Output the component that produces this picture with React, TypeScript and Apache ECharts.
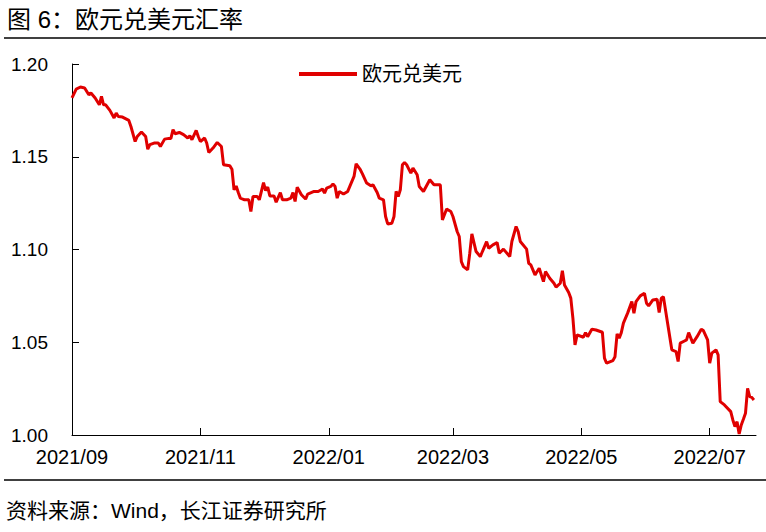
import React, { useEffect, useRef } from "react";
import * as echarts from "echarts";

const TITLE = "图 6：欧元兑美元汇率";
const SOURCE = "资料来源：Wind，长江证券研究所";
const SERIES_NAME = "欧元兑美元";
const AXIS_START = "2021-09-01";
const AXIS_END = "2022-07-23";
const Y_MIN = 1.0;
const Y_MAX = 1.2;
const Y_STEP = 0.05;

const dates = [
  "2021-09-01","2021-09-03","2021-09-05","2021-09-07","2021-09-09","2021-09-10","2021-09-12","2021-09-14","2021-09-15","2021-09-16",
  "2021-09-17","2021-09-19","2021-09-21","2021-09-22","2021-09-23","2021-09-25","2021-09-28","2021-09-29",
  "2021-10-01","2021-10-02","2021-10-04","2021-10-06","2021-10-07","2021-10-08","2021-10-10","2021-10-12","2021-10-13","2021-10-15",
  "2021-10-17","2021-10-18","2021-10-19","2021-10-20","2021-10-22","2021-10-24","2021-10-26","2021-10-27","2021-10-28","2021-10-30","2021-10-31",
  "2021-11-01","2021-11-03","2021-11-04","2021-11-05","2021-11-07","2021-11-09","2021-11-11","2021-11-12","2021-11-15","2021-11-16",
  "2021-11-17","2021-11-18","2021-11-19","2021-11-20","2021-11-22","2021-11-24","2021-11-25","2021-11-26","2021-11-28","2021-11-29",
  "2021-12-01","2021-12-02","2021-12-03","2021-12-04","2021-12-06","2021-12-07","2021-12-09","2021-12-10","2021-12-12","2021-12-14",
  "2021-12-15","2021-12-16","2021-12-17","2021-12-19","2021-12-21","2021-12-22","2021-12-25","2021-12-27","2021-12-29","2021-12-30","2021-12-31",
  "2022-01-02","2022-01-03","2022-01-04","2022-01-05","2022-01-06","2022-01-08","2022-01-10","2022-01-11","2022-01-13","2022-01-14",
  "2022-01-16","2022-01-17","2022-01-19","2022-01-21","2022-01-22","2022-01-24","2022-01-25","2022-01-27","2022-01-28","2022-01-29","2022-01-31",
  "2022-02-01","2022-02-02","2022-02-03","2022-02-04","2022-02-05","2022-02-06","2022-02-07","2022-02-09","2022-02-10","2022-02-12",
  "2022-02-13","2022-02-15","2022-02-18","2022-02-20","2022-02-23","2022-02-24","2022-02-26","2022-02-28",
  "2022-03-01","2022-03-03","2022-03-04","2022-03-05","2022-03-06","2022-03-08","2022-03-09","2022-03-10","2022-03-12","2022-03-14",
  "2022-03-15","2022-03-17","2022-03-18","2022-03-20","2022-03-22","2022-03-23","2022-03-25","2022-03-28","2022-03-29","2022-03-31",
  "2022-04-01","2022-04-02","2022-04-05","2022-04-06","2022-04-07","2022-04-09","2022-04-10","2022-04-11","2022-04-13","2022-04-14",
  "2022-04-16","2022-04-18","2022-04-19","2022-04-21","2022-04-22","2022-04-23","2022-04-25","2022-04-26","2022-04-27","2022-04-28","2022-04-29",
  "2022-05-02","2022-05-03","2022-05-04","2022-05-06","2022-05-08","2022-05-11","2022-05-12","2022-05-13","2022-05-16","2022-05-17",
  "2022-05-18","2022-05-19","2022-05-20","2022-05-21","2022-05-23","2022-05-25","2022-05-26","2022-05-27","2022-05-29","2022-05-31",
  "2022-06-01","2022-06-02","2022-06-04","2022-06-06","2022-06-07","2022-06-08","2022-06-09","2022-06-11","2022-06-13","2022-06-15",
  "2022-06-16","2022-06-17","2022-06-19","2022-06-20","2022-06-21","2022-06-23","2022-06-25","2022-06-27","2022-06-28","2022-06-30",
  "2022-07-01","2022-07-02","2022-07-04","2022-07-05","2022-07-06","2022-07-08","2022-07-11","2022-07-12","2022-07-13","2022-07-14",
  "2022-07-15","2022-07-16","2022-07-17","2022-07-18","2022-07-19","2022-07-20","2022-07-21","2022-07-22",
];

const rates = [
  1.1817,1.1865,1.1876,1.1871,1.1834,1.1844,1.1817,1.1780,1.1825,1.1780,
  1.1780,1.1750,1.1709,1.1736,1.1717,1.1714,1.1696,1.1663,
  1.1582,1.1609,1.1633,1.1609,1.1541,1.1565,1.1574,1.1574,1.1555,1.1595,
  1.1599,1.1599,1.1646,1.1624,1.1631,1.1619,1.1601,1.1613,1.1592,1.1642,1.1609,
  1.1582,1.1601,1.1574,1.1523,1.1547,1.1577,1.1555,1.1457,1.1451,1.1433,
  1.1322,1.1343,1.1307,1.1277,1.1268,1.1268,1.1205,1.1286,1.1286,1.1268,
  1.1361,1.1318,1.1336,1.1289,1.1289,1.1255,1.1307,1.1268,1.1268,1.1277,
  1.1307,1.1259,1.1336,1.1295,1.1272,1.1299,1.1313,1.1313,1.1326,1.1304,1.1331,
  1.1340,1.1354,1.1340,1.1277,1.1313,1.1299,1.1313,1.1340,1.1394,1.1462,
  1.1430,1.1408,1.1358,1.1343,1.1349,1.1307,1.1277,1.1268,1.1178,1.1138,1.1142,
  1.1178,1.1313,1.1286,1.1322,1.1457,1.1469,1.1457,1.1412,1.1439,1.1403,
  1.1340,1.1313,1.1376,1.1349,1.1349,1.1159,1.1218,1.1205,
  1.1178,1.1097,1.1070,1.0935,1.0908,1.0890,1.0980,1.1084,1.0989,1.0962,
  1.0989,1.1042,1.1007,1.1025,1.1037,1.0980,1.1002,1.0962,1.1043,1.1124,
  1.1097,1.1043,1.1002,1.0926,1.0917,1.0863,1.0881,1.0899,1.0827,1.0881,
  1.0845,1.0818,1.0797,1.0818,1.0886,1.0809,1.0768,1.0738,1.0630,1.0486,1.0540,
  1.0527,1.0552,1.0530,1.0570,1.0566,1.0554,1.0414,1.0387,1.0401,1.0422,
  1.0545,1.0522,1.0552,1.0603,1.0657,1.0719,1.0657,1.0719,1.0750,1.0764,
  1.0710,1.0696,1.0728,1.0732,1.0660,1.0738,1.0746,1.0603,1.0459,1.0450,
  1.0396,1.0495,1.0507,1.0513,1.0552,1.0495,1.0530,1.0570,1.0563,1.0513,
  1.0387,1.0441,1.0459,1.0432,1.0180,1.0162,1.0126,1.0081,1.0045,1.0072,
  1.0006,1.0054,1.0085,1.0117,1.0252,1.0207,1.0203,1.0189,
];

const RED = "#E00000";
const FONT = "'Liberation Sans', Arial, 'Noto Sans CJK SC', sans-serif";

function buildDays(start: string, end: string): string[] {
  const out: string[] = [];
  const d = new Date(start + "T00:00:00Z");
  const e = new Date(end + "T00:00:00Z");
  while (d.getTime() <= e.getTime()) {
    out.push(d.toISOString().slice(0, 10));
    d.setUTCDate(d.getUTCDate() + 1);
  }
  return out;
}

export default function App() {
  const ref = useRef<HTMLDivElement>(null);

  useEffect(() => {
    if (!ref.current) return;
    const chart = echarts.init(ref.current, null, { renderer: "svg" });
    const days = buildDays(AXIS_START, AXIS_END);
    const lookup: Record<string, number> = {};
    dates.forEach((d, i) => (lookup[d] = rates[i]));
    const seriesData = days.map((d) => (d in lookup ? lookup[d] : null));
    const isLabelDay = (_i: number, v: string) =>
      v.endsWith("-01") && parseInt(v.slice(5, 7), 10) % 2 === 1;

    chart.setOption({
      animation: false,
      backgroundColor: "#ffffff",
      textStyle: { fontFamily: FONT },
      grid: { left: 72, right: 10, top: 64, bottom: 97, containLabel: false },
      legend: {
        show: true,
        left: 294,
        top: 59,
        icon: "rect",
        itemWidth: 58,
        itemHeight: 4,
        itemGap: 10,
        textStyle: { fontSize: 20, color: "#000", fontFamily: FONT },
        data: [{ name: SERIES_NAME, itemStyle: { color: RED } }],
      },
      xAxis: {
        type: "category",
        data: days,
        boundaryGap: false,
        axisLine: { show: true, lineStyle: { color: "#000", width: 1 } },
        axisTick: { show: true, inside: true, length: 7, interval: isLabelDay, lineStyle: { color: "#000" } },
        axisLabel: {
          show: true,
          interval: isLabelDay,
          margin: 12,
          fontSize: 20,
          color: "#000",
          fontFamily: FONT,
          formatter: (v: string) => v.slice(0, 4) + "/" + v.slice(5, 7),
        },
        splitLine: { show: false },
      },
      yAxis: {
        type: "value",
        min: Y_MIN,
        max: Y_MAX,
        interval: Y_STEP,
        axisLine: { show: true, lineStyle: { color: "#000", width: 1 } },
        axisTick: { show: true, inside: true, length: 7, lineStyle: { color: "#000" } },
        axisLabel: {
          margin: 24,
          fontSize: 19,
          color: "#000",
          fontFamily: FONT,
          formatter: (v: number) => v.toFixed(2),
        },
        splitLine: { show: false },
      },
      series: [
        {
          name: SERIES_NAME,
          type: "line",
          data: seriesData,
          connectNulls: true,
          showSymbol: false,
          symbol: "none",
          smooth: false,
          itemStyle: { color: RED },
          lineStyle: { color: RED, width: 3 },
        },
      ],
      graphic: [
        {
          type: "text",
          left: 7,
          top: 7,
          style: { text: TITLE, fontSize: 24, fill: "#000", fontFamily: FONT },
        },
        {
          type: "line",
          shape: { x1: 4, y1: 38, x2: 766, y2: 38 },
          style: { stroke: "#000", lineWidth: 1.5 },
        },
        {
          type: "line",
          shape: { x1: 4, y1: 480, x2: 766, y2: 480 },
          style: { stroke: "#000", lineWidth: 1.5 },
        },
        {
          type: "text",
          left: 6,
          top: 500,
          style: { text: SOURCE, fontSize: 21, fill: "#000", fontFamily: FONT },
        },
      ],
    });
    return () => chart.dispose();
  }, []);

  return (
    <div
      ref={ref}
      style={{ position: "fixed", left: 0, top: 0, width: 766, height: 532, background: "#fff" }}
    />
  );
}
